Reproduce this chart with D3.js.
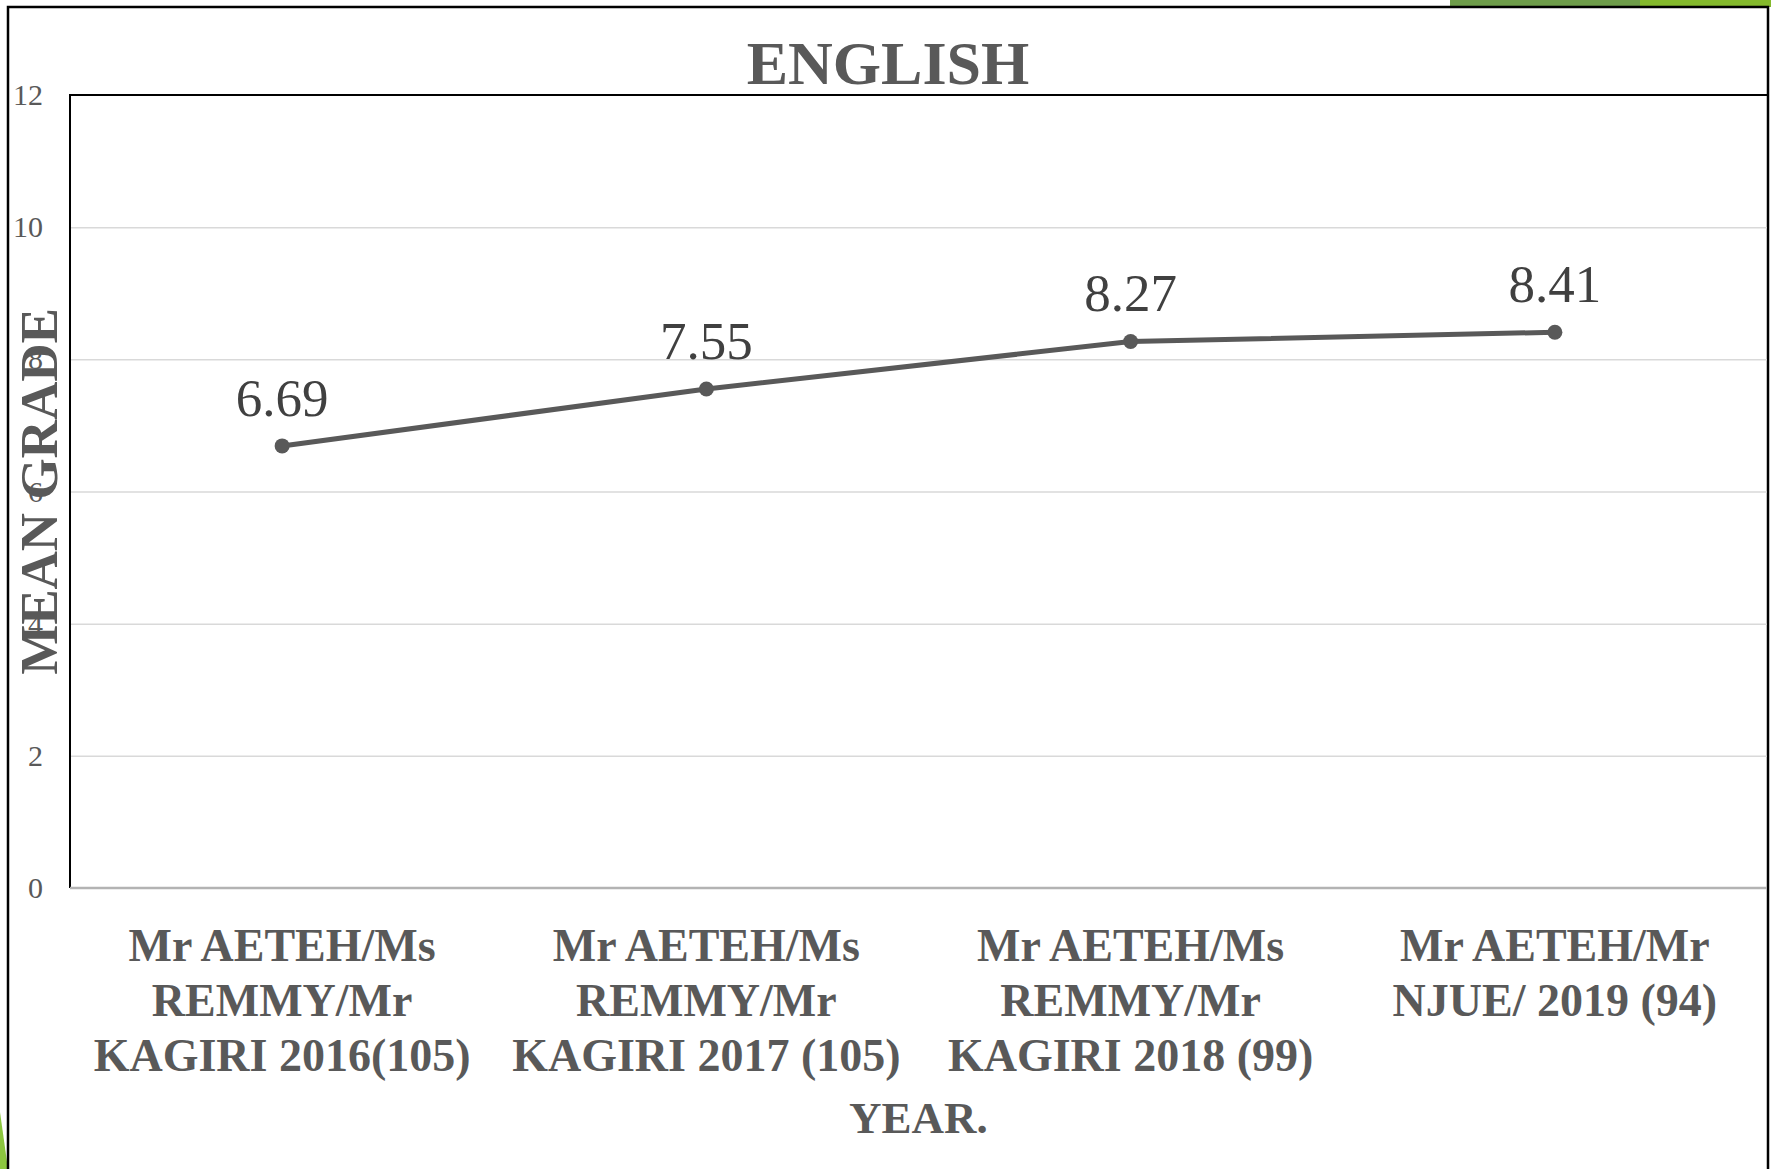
<!DOCTYPE html>
<html>
  <head>
    <meta charset="utf-8" />
    <style>
      body { margin: 0; background: #fff; }
      text { font-family: "Liberation Serif", "Times New Roman", serif; }
    </style>
  </head>
  <body>

<svg id="graph"></svg>

<script src="https://d3js.org/d3.v7.min.js"></script>
<script>
  const WIDTH = 1771;
  const HEIGHT = 1169;

  // chart data
  const categories = [
    ['Mr AETEH/Ms', 'REMMY/Mr', 'KAGIRI 2016(105)'],
    ['Mr AETEH/Ms', 'REMMY/Mr', 'KAGIRI 2017 (105)'],
    ['Mr AETEH/Ms', 'REMMY/Mr', 'KAGIRI 2018 (99)'],
    ['Mr AETEH/Mr', 'NJUE/ 2019 (94)']
  ];
  const meanGrades = [6.69, 7.55, 8.27, 8.41];
  const yTicks = [0, 2, 4, 6, 8, 10, 12];

  const PLOT = { left: 70, top: 95, right: 1767, bottom: 888 };
  const GREY = '#595959';

  const svg = d3.select('#graph')
    .attr('width', WIDTH)
    .attr('height', HEIGHT);

  // slide decorations
  svg.append('rect').attr('x', 1450).attr('y', 0).attr('width', 190).attr('height', 7).attr('fill', '#6e9d4a');
  svg.append('rect').attr('x', 1640).attr('y', 0).attr('width', 131).attr('height', 7).attr('fill', '#84b92c');
  svg.append('polygon').attr('points', '0,1112 8,1169 0,1169').attr('fill', '#8cc63f');

  // outer frame
  svg.append('path')
    .attr('d', `M8,${HEIGHT} V7 H1768 V${HEIGHT}`)
    .attr('fill', 'none')
    .attr('stroke', '#000')
    .attr('stroke-width', 2.5);

  const x = d3.scaleBand()
    .domain(d3.range(categories.length))
    .range([PLOT.left, PLOT.right]);

  const y = d3.scaleLinear()
    .domain([0, 12])
    .range([PLOT.bottom, PLOT.top]);

  // gridlines
  svg.append('g')
    .attr('transform', `translate(${PLOT.left},0)`)
    .call(d3.axisLeft(y).tickValues(yTicks.slice(1, -1)).tickSize(-(PLOT.right - PLOT.left)).tickFormat(''))
    .call(g => g.select('.domain').remove())
    .call(g => g.selectAll('line').attr('stroke', '#d9d9d9').attr('stroke-width', 1.5));

  // plot area border (left + top)
  svg.append('path')
    .attr('d', `M${PLOT.left},${PLOT.bottom} V${PLOT.top} H${PLOT.right}`)
    .attr('fill', 'none')
    .attr('stroke', '#000')
    .attr('stroke-width', 2);

  // x axis line
  svg.append('line')
    .attr('x1', PLOT.left).attr('x2', PLOT.right)
    .attr('y1', y(0)).attr('y2', y(0))
    .attr('stroke', '#b3b3b3')
    .attr('stroke-width', 2.5);

  // y axis title
  svg.append('text')
    .attr('transform', `translate(57,${(PLOT.top + PLOT.bottom) / 2}) rotate(-90)`)
    .attr('text-anchor', 'middle')
    .attr('font-size', 53)
    .attr('font-weight', 'bold')
    .attr('fill', GREY)
    .text('MEAN GRADE');

  // y tick labels
  svg.append('g')
    .attr('transform', `translate(${PLOT.left},0)`)
    .call(d3.axisLeft(y).tickValues(yTicks).tickSize(0).tickPadding(27))
    .call(g => g.select('.domain').remove())
    .call(g => g.selectAll('text')
      .attr('font-family', '"Liberation Serif", serif')
      .attr('font-size', 30)
      .attr('fill', GREY));

  // title
  svg.append('text')
    .attr('x', 888)
    .attr('y', 84)
    .attr('text-anchor', 'middle')
    .attr('font-size', 62)
    .attr('font-weight', 'bold')
    .attr('fill', GREY)
    .text('ENGLISH');

  // line
  const cx = i => x(i) + x.bandwidth() / 2;
  svg.append('path')
    .datum(meanGrades)
    .attr('d', d3.line().x((d, i) => cx(i)).y(d => y(d)))
    .attr('fill', 'none')
    .attr('stroke', GREY)
    .attr('stroke-width', 5);

  svg.selectAll('circle.pt')
    .data(meanGrades)
    .enter()
    .append('circle')
    .attr('class', 'pt')
    .attr('cx', (d, i) => cx(i))
    .attr('cy', d => y(d))
    .attr('r', 7.5)
    .attr('fill', GREY);

  // data labels
  svg.selectAll('text.lbl')
    .data(meanGrades)
    .enter()
    .append('text')
    .attr('class', 'lbl')
    .attr('x', (d, i) => cx(i))
    .attr('y', d => y(d) - 30)
    .attr('text-anchor', 'middle')
    .attr('font-size', 53)
    .attr('fill', '#404040')
    .text(d => d.toFixed(2));

  // category labels
  const cat = svg.selectAll('text.cat')
    .data(categories)
    .enter()
    .append('text')
    .attr('class', 'cat')
    .attr('text-anchor', 'middle')
    .attr('font-size', 46)
    .attr('font-weight', 'bold')
    .attr('fill', GREY);

  cat.selectAll('tspan')
    .data((d, i) => d.map(line => ({ line, i })))
    .enter()
    .append('tspan')
    .attr('x', d => cx(d.i))
    .attr('y', (d, j) => 961 + j * 55)
    .text(d => d.line);

  // x axis title
  svg.append('text')
    .attr('x', (PLOT.left + PLOT.right) / 2)
    .attr('y', 1133)
    .attr('text-anchor', 'middle')
    .attr('font-size', 45)
    .attr('font-weight', 'bold')
    .attr('fill', GREY)
    .text('YEAR.');

</script>
  </body>
</html>
